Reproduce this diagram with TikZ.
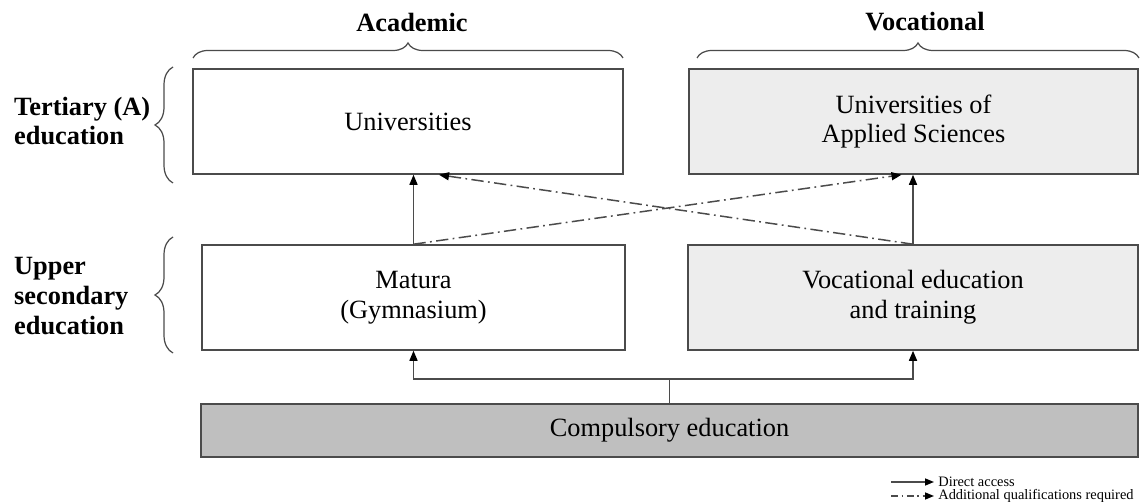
\documentclass[tikz,border=0pt]{standalone}
\usepackage{fontspec}
\setmainfont{Liberation Serif}
\usetikzlibrary{arrows.meta,decorations.pathreplacing}
\definecolor{edgegray}{RGB}{75,75,75}
\definecolor{lightbox}{RGB}{237,237,237}
\definecolor{darkbox}{RGB}{191,191,191}

\begin{document}
\begin{tikzpicture}[x=0.02cm, y=-0.02cm,
    box/.style={draw=edgegray, line width=0.9pt, inner sep=0pt, minimum height=2.1cm,
                align=center, font=\fontsize{15}{17}\selectfont},
    head/.style={font=\fontsize{15}{17}\selectfont\bfseries, align=left},
    acc/.style={draw=edgegray, line width=0.85pt, -{Triangle[length=0.2cm,width=0.16cm,color=black]}},
    extra/.style={acc, dash pattern=on 7pt off 2.5pt on 1pt off 2.5pt},
    brc/.style={draw=edgegray, line width=0.7pt, decorate, decoration={brace, amplitude=#1}},
    legtext/.style={anchor=west, inner sep=0pt, font=\fontsize{8.2}{10}\selectfont}]
  \useasboundingbox (0,0) rectangle (1142,502);

  % boxes
  \node[box, fill=white, minimum width=8.6cm] (uni) at (408,121.5) {Universities};
  \node[box, fill=lightbox, minimum width=8.98cm] (uas) at (913.5,121.5) {Universities of\\Applied Sciences};
  \node[box, fill=white, minimum width=8.46cm] (matura) at (413.5,297.5) {Matura\\(Gymnasium)};
  \node[box, fill=lightbox, minimum width=9cm] (vet) at (913,297.5) {Vocational education\\and training};
  \node[box, fill=darkbox, minimum width=18.74cm, minimum height=1.06cm] (comp) at (669.5,430.5) {Compulsory education};

  % headings
  \node[head] (acad) at (412,22) {Academic};
  \node[head] (voc) at (925,22) {Vocational};
  \node[head, anchor=west] (tert) at (8,121) {Tertiary (A)\\education};
  \node[head, anchor=west] (upper) at (8,296) {Upper\\secondary\\education};

  % braces
  \draw[brc=0.3cm] (193,58) -- (623,58);
  \draw[brc=0.3cm] (697,58) -- (1139,58);
  \draw[brc=0.36cm] (173,183) -- (173,67);
  \draw[brc=0.36cm] (173,353) -- (173,237);

  % direct access
  \draw[acc] (matura.north) -- (matura.north |- uni.south);
  \draw[acc] (vet.north) -- (vet.north |- uas.south);
  \coordinate (split) at (669.5,379);
  \draw[edgegray, line width=0.85pt] (comp.north) -- (split);
  \draw[acc] (split) -| (matura.south);
  \draw[acc] (split) -| (vet.south);

  % additional qualifications
  \draw[extra] (matura.north) -- ([xshift=-0.24cm]uas.south);
  \draw[extra] (vet.north) -- ([xshift=0.62cm]uni.south);

  % legend
  \coordinate (l1) at (891,482);
  \coordinate (l2) at (891,496);
  \node[legtext] (t1) at (938,482) {Direct access};
  \node[legtext] (t2) at (938,496) {Additional qualifications required};
  \draw[acc, -{Triangle[length=0.18cm,width=0.14cm,color=black]}] (l1) -- ([xshift=-0.08cm]t1.west);
  \draw[extra, dash pattern=on 4pt off 2pt on 1pt off 2pt, -{Triangle[length=0.18cm,width=0.14cm,color=black]}] (l2) -- ([xshift=-0.08cm]t2.west);
\end{tikzpicture}
\end{document}
